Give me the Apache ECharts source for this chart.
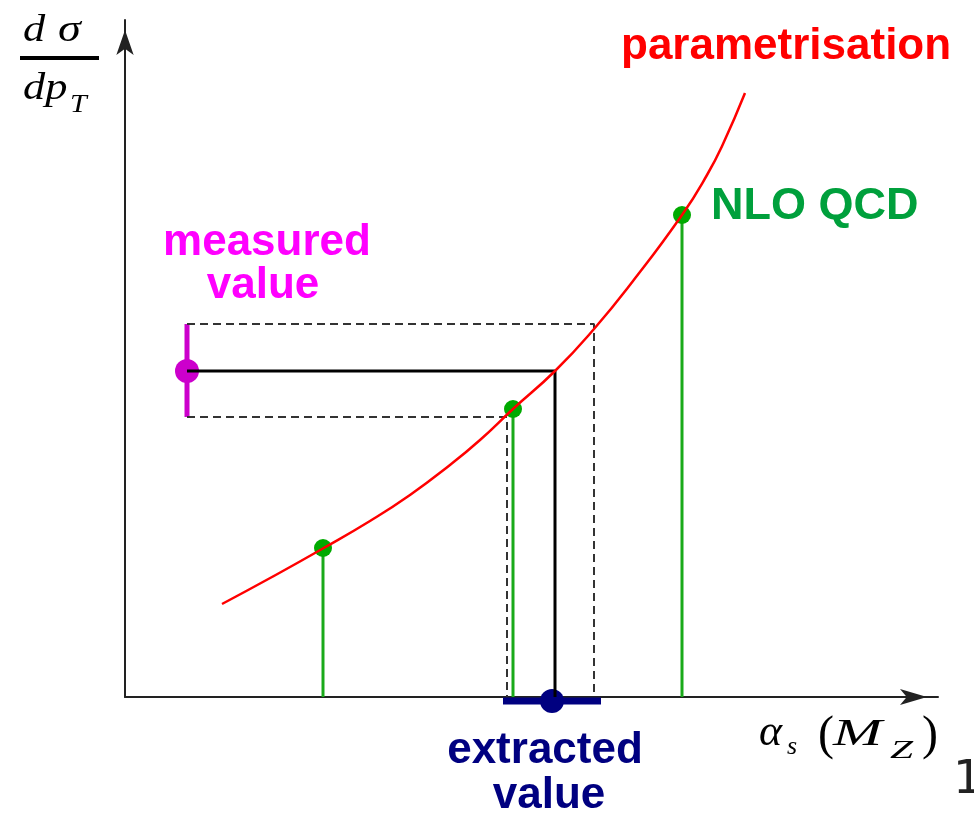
<!DOCTYPE html>
<html>
<head>
<meta charset="utf-8">
<script src="https://cdn.jsdelivr.net/npm/echarts@6/dist/echarts.min.js"></script>
<style>
html, body { margin: 0; padding: 0; background: #ffffff; }
#chart { width: 974px; height: 814px; }
</style>
</head>
<body>
<div id="chart"></div>
<script>
// Schematic values (arbitrary units)
const curveX = [97, 147, 197, 245, 285, 325, 355, 388, 430, 469, 508, 557, 582, 598, 620];
const curveY = [93, 120, 148, 176, 202, 232, 257, 288, 326, 368, 416, 482, 522, 553, 604];
const nloX = [198, 388, 557];
const nloY = [149, 288, 482];
const measuredX = 62;
const measuredY = 326;
const measuredLo = 280;
const measuredHi = 373;
const crossX = 430;      // curve at measured central value
const crossLoX = 382;    // curve at measured lower value
const crossHiX = 469;    // curve at measured upper value
const extractedX = 427;
const extractedY = -4;
const extractedLo = 378;
const extractedHi = 476;
const xRange = [0, 813];
const yRange = [0, 677];

const chart = echarts.init(document.getElementById('chart'), null, { renderer: 'canvas' });

const curveData = curveX.map((x, i) => [x, curveY[i]]);
const nloData = nloX.map((x, i) => [x, nloY[i]]);

const axisCommon = {
  type: 'value',
  axisLabel: { show: false },
  axisTick: { show: false },
  splitLine: { show: false }
};

const option = {
  animation: false,
  backgroundColor: '#ffffff',
  grid: { left: 125, top: 20, right: 36, bottom: 117, containLabel: false },
  xAxis: Object.assign({}, axisCommon, {
    min: xRange[0], max: xRange[1],
    axisLine: { show: true, onZero: false, symbol: ['none', 'arrow'], symbolSize: [12, 27], symbolOffset: [0, -11],
      lineStyle: { color: '#222222', width: 2 } }
  }),
  yAxis: Object.assign({}, axisCommon, {
    min: yRange[0], max: yRange[1],
    axisLine: { show: true, onZero: false, symbol: ['none', 'arrow'], symbolSize: [13, 25], symbolOffset: [0, -10],
      lineStyle: { color: '#222222', width: 2 } }
  }),
  series: [
    {
      name: 'upper band', type: 'line', symbol: 'none', silent: true,
      data: [[measuredX, measuredHi], [crossHiX, measuredHi], [crossHiX, 0]],
      lineStyle: { color: '#333333', width: 2, type: [8, 5] }
    },
    {
      name: 'lower band', type: 'line', symbol: 'none', silent: true,
      data: [[measuredX, measuredLo], [crossLoX, measuredLo], [crossLoX, 0]],
      lineStyle: { color: '#333333', width: 2, type: [8, 5] }
    },
    {
      name: 'central', type: 'line', symbol: 'none', silent: true,
      data: [[measuredX, measuredY], [crossX, measuredY], [crossX, 0]],
      lineStyle: { color: '#000000', width: 3 }
    },
    {
      name: 'parametrisation', type: 'line', symbol: 'none', smooth: 0.5, silent: true,
      data: curveData,
      lineStyle: { color: '#ff0000', width: 2.5 }
    },
    {
      name: 'NLO QCD', type: 'custom', silent: true, clip: false,
      data: nloData,
      renderItem: function (params, api) {
        const top = api.coord([api.value(0), api.value(1)]);
        const base = api.coord([api.value(0), 0]);
        return {
          type: 'group',
          children: [
            { type: 'line', shape: { x1: base[0], y1: base[1], x2: top[0], y2: top[1] },
              style: { stroke: '#1aaa1a', lineWidth: 3 } },
            { type: 'circle', shape: { cx: top[0], cy: top[1], r: 9 }, style: { fill: '#00aa00' } }
          ]
        };
      }
    },
    {
      name: 'measured', type: 'custom', silent: true, clip: false,
      data: [[measuredX, measuredY, measuredLo, measuredHi]],
      renderItem: function (params, api) {
        const c = api.coord([api.value(0), api.value(1)]);
        const lo = api.coord([api.value(0), api.value(2)]);
        const hi = api.coord([api.value(0), api.value(3)]);
        return {
          type: 'group',
          children: [
            { type: 'line', shape: { x1: lo[0], y1: lo[1], x2: hi[0], y2: hi[1] },
              style: { stroke: '#cc00cc', lineWidth: 5 } },
            { type: 'circle', shape: { cx: c[0], cy: c[1], r: 12 }, style: { fill: '#cc00cc' } }
          ]
        };
      }
    },
    {
      name: 'extracted', type: 'custom', silent: true, clip: false,
      data: [[extractedX, extractedY, extractedLo, extractedHi]],
      renderItem: function (params, api) {
        const c = api.coord([api.value(0), api.value(1)]);
        const lo = api.coord([api.value(2), api.value(1)]);
        const hi = api.coord([api.value(3), api.value(1)]);
        return {
          type: 'group',
          children: [
            { type: 'line', shape: { x1: lo[0], y1: lo[1], x2: hi[0], y2: hi[1] },
              style: { stroke: '#000080', lineWidth: 7 } },
            { type: 'circle', shape: { cx: c[0], cy: c[1], r: 12 }, style: { fill: '#000080' } }
          ]
        };
      }
    }
  ],
  graphic: {
    elements: [
      // y-axis label: d sigma / d p_T
      { type: 'text', x: 23, y: 31, scaleX: 1.2, style: { text: 'd', x: 0, y: 0, font: 'italic 37px "Liberation Serif"', fill: '#000', align: 'left', verticalAlign: 'middle' } },
      { type: 'text', x: 58, y: 31, scaleX: 1.25, style: { text: 'σ', x: 0, y: 0, font: 'italic 37px "Liberation Serif"', fill: '#000', align: 'left', verticalAlign: 'middle' } },
      { type: 'line', shape: { x1: 20, y1: 58, x2: 99, y2: 58 }, style: { stroke: '#000', lineWidth: 4 } },
      { type: 'text', x: 23, y: 89, scaleX: 1.2, style: { text: 'dp', x: 0, y: 0, font: 'italic 37px "Liberation Serif"', fill: '#000', align: 'left', verticalAlign: 'middle' } },
      { type: 'text', x: 70, y: 105, scaleX: 1.2, style: { text: 'T', x: 0, y: 0, font: 'italic 25px "Liberation Serif"', fill: '#000', align: 'left', verticalAlign: 'middle' } },
      // x-axis label: alpha_s(M_Z)
      { type: 'text', x: 759, y: 733, style: { text: 'α', x: 0, y: 0, font: 'italic 44px "Liberation Serif"', fill: '#000', align: 'left', verticalAlign: 'middle' } },
      { type: 'text', x: 787, y: 747, style: { text: 's', x: 0, y: 0, font: 'italic 26px "Liberation Serif"', fill: '#000', align: 'left', verticalAlign: 'middle' } },
      { type: 'text', x: 818, y: 736, style: { text: '(', x: 0, y: 0, font: '48px "Liberation Serif"', fill: '#000', align: 'left', verticalAlign: 'middle' } },
      { type: 'text', x: 833, y: 735, scaleX: 1.55, style: { text: 'M', x: 0, y: 0, font: 'italic 38px "Liberation Serif"', fill: '#000', align: 'left', verticalAlign: 'middle' } },
      { type: 'text', x: 890, y: 751, scaleX: 1.6, style: { text: 'Z', x: 0, y: 0, font: 'italic 26px "Liberation Serif"', fill: '#000', align: 'left', verticalAlign: 'middle' } },
      { type: 'text', x: 922, y: 736, style: { text: ')', x: 0, y: 0, font: '48px "Liberation Serif"', fill: '#000', align: 'left', verticalAlign: 'middle' } },
      // annotations
      { type: 'text', x: 621, y: 47, style: { text: 'parametrisation', x: 0, y: 0, font: 'bold 44px "Liberation Sans"', fill: '#ff0000', align: 'left', verticalAlign: 'middle' } },
      { type: 'text', x: 711, y: 207, style: { text: 'NLO QCD', x: 0, y: 0, font: 'bold 45px "Liberation Sans"', fill: '#00a03c', align: 'left', verticalAlign: 'middle' } },
      { type: 'text', x: 267, y: 243, style: { text: 'measured', x: 0, y: 0, font: 'bold 44px "Liberation Sans"', fill: '#ff00ff', align: 'center', verticalAlign: 'middle' } },
      { type: 'text', x: 263, y: 286, style: { text: 'value', x: 0, y: 0, font: 'bold 44px "Liberation Sans"', fill: '#ff00ff', align: 'center', verticalAlign: 'middle' } },
      { type: 'text', x: 545, y: 751, style: { text: 'extracted', x: 0, y: 0, font: 'bold 44px "Liberation Sans"', fill: '#000080', align: 'center', verticalAlign: 'middle' } },
      { type: 'text', x: 549, y: 796, style: { text: 'value', x: 0, y: 0, font: 'bold 44px "Liberation Sans"', fill: '#000080', align: 'center', verticalAlign: 'middle' } },
      { type: 'text', x: 953, y: 781, style: { text: '1', x: 0, y: 0, font: '47px "DejaVu Sans"', fill: '#222', align: 'left', verticalAlign: 'middle' } }
    ]
  }
};

chart.setOption(option);
</script>
</body>
</html>
